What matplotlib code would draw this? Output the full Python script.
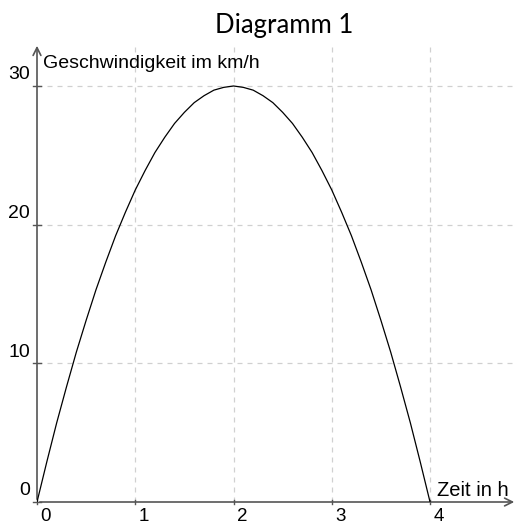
import numpy as np
import matplotlib.pyplot as plt

# Zeit (h) und Geschwindigkeit (km/h)
zeit = [0.0, 0.1, 0.2, 0.3, 0.4, 0.5, 0.6, 0.7, 0.8, 0.9, 1.0,
        1.1, 1.2, 1.3, 1.4, 1.5, 1.6, 1.7, 1.8, 1.9, 2.0,
        2.1, 2.2, 2.3, 2.4, 2.5, 2.6, 2.7, 2.8, 2.9, 3.0,
        3.1, 3.2, 3.3, 3.4, 3.5, 3.6, 3.7, 3.8, 3.9, 4.0]
geschw = [0.0, 2.9, 5.7, 8.3, 10.8, 13.1, 15.3, 17.3, 19.2, 20.9, 22.5,
          23.9, 25.2, 26.3, 27.3, 28.1, 28.8, 29.3, 29.7, 29.9, 30.0,
          29.9, 29.7, 29.3, 28.8, 28.1, 27.3, 26.3, 25.2, 23.9, 22.5,
          20.9, 19.2, 17.3, 15.3, 13.1, 10.8, 8.3, 5.7, 2.9, 0.0]

xticks = [0, 1, 2, 3, 4]
yticks = [0, 10, 20, 30]

plt.rcParams['font.family'] = ['Liberation Sans', 'DejaVu Sans']

xmax, ymax = 4.885, 33.1

fig = plt.figure(figsize=(5.21, 5.26), dpi=100)
ax = fig.add_axes([37 / 521, 24 / 526, 480 / 521, 459 / 526])
ax.set_xlim(0, xmax)
ax.set_ylim(0, ymax)
ax.axis('off')

# Gitter
for xv in xticks[1:]:
    ax.plot([xv, xv], [0, ymax], ls=(0, (4, 4)), color='#d0d0d0', lw=0.9, zorder=1)
for yv in yticks[1:]:
    ax.plot([0, xmax], [yv, yv], ls=(0, (4, 4)), color='#d0d0d0', lw=0.9, zorder=1)

# Achsen mit Pfeilen
axcol = '#555555'
ax.annotate('', xy=(xmax, 0), xytext=(0, 0),
            arrowprops=dict(arrowstyle='->', color=axcol, lw=1.2, mutation_scale=14),
            annotation_clip=False, zorder=3)
ax.annotate('', xy=(0, ymax), xytext=(0, 0),
            arrowprops=dict(arrowstyle='->', color=axcol, lw=1.2, mutation_scale=14),
            annotation_clip=False, zorder=3)

# Teilstriche und Beschriftungen
for xv in xticks:
    ax.plot([xv, xv], [-0.15, 0.15], color=axcol, lw=1, clip_on=False, zorder=3)
    ax.text(xv + 0.085, -0.45, str(xv), ha='center', va='top', fontsize=13.5)
for yv in yticks:
    ax.plot([-0.04, 0.04], [yv, yv], color=axcol, lw=1, clip_on=False, zorder=3)
    ax.text(-0.07, yv + 0.2, str(yv), ha='right', va='bottom', fontsize=14)

ax.plot(zeit, geschw, color='black', lw=0.9, zorder=4)

ax.text(0.06, 31.6, 'Geschwindigkeit im km/h', ha='left', va='center', fontsize=14)
ax.text(4.07, 0.4, 'Zeit in h', ha='left', va='baseline', fontsize=14.5)

fig.text(0.545, 1 - 33 / 526, 'Diagramm 1', ha='center', va='baseline', fontsize=18.5,
         family=['Lato', 'DejaVu Sans'])

fig.savefig('out.png', dpi=100)
